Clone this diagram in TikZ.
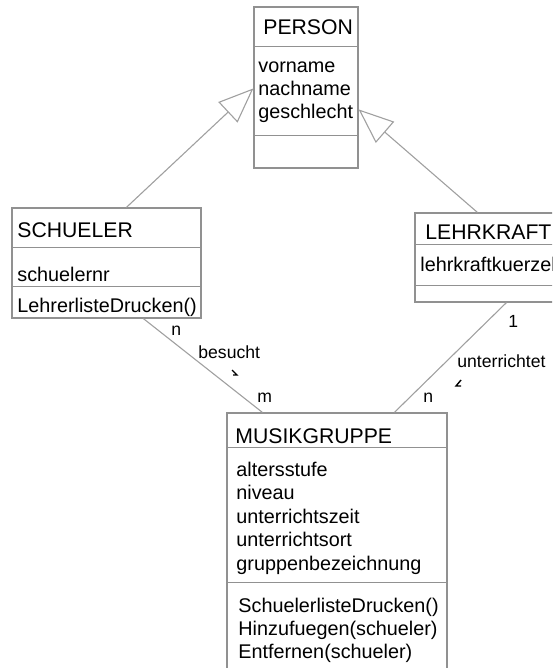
\documentclass[tikz,border=0pt]{standalone}
\usepackage{fontspec}
\setmainfont{Liberation Sans}
\usetikzlibrary{arrows.meta,fit,calc}
\definecolor{linegray}{RGB}{160,160,160}
\definecolor{boxgray}{RGB}{145,145,145}
\begin{document}
\begin{tikzpicture}[x=0.5pt,y=-0.5pt,
  cls/.style={draw=boxgray, line width=0.6pt, inner sep=0pt, fill=white},
  title/.style={anchor=base west, inner sep=0pt, font=\fontsize{10.6}{12}\selectfont},
  txt/.style={anchor=base west, inner sep=0pt, font=\fontsize{9.9}{11.5}\selectfont},
  lbl/.style={anchor=base west, inner sep=0pt, font=\fontsize{8.8}{10}\selectfont},
  conn/.style={draw=linegray, line width=0.55pt},
  inh/.style={conn, -{Triangle[open, length=17.5pt, width=14pt]}},
  sep/.style={draw=boxgray, line width=0.6pt},
  dirmark/.style={draw=black, line width=0.7pt}
]
\useasboundingbox (0,0) rectangle (552,668);
\clip (0,0) rectangle (552,668);

% class boxes
\node[cls, fit={(254,7) (358,168)}] (person) {};
\node[cls, fit={(12,208) (201,318)}] (schueler) {};
\node[cls, fit={(415,213) (562,302)}] (lehrkraft) {};
\node[cls, fit={(227,413) (447,672)}] (musik) {};

% separators
\draw[sep] ($(person.north west)+(0,40)$) -- ($(person.north east)+(0,40)$);
\draw[sep] ($(person.north west)+(0,129)$) -- ($(person.north east)+(0,129)$);
\draw[sep] ($(schueler.north west)+(0,40)$) -- ($(schueler.north east)+(0,40)$);
\draw[sep] ($(schueler.north west)+(0,79)$) -- ($(schueler.north east)+(0,79)$);
\draw[sep] ($(lehrkraft.north west)+(0,32)$) -- ($(lehrkraft.north east)+(0,32)$);
\draw[sep] ($(lehrkraft.north west)+(0,73)$) -- ($(lehrkraft.north east)+(0,73)$);
\draw[sep] ($(musik.north west)+(0,35)$) -- ($(musik.north east)+(0,35)$);
\draw[sep] ($(musik.north west)+(0,170)$) -- ($(musik.north east)+(0,170)$);

% PERSON texts
\node[title] (personT) at (263,35) {PERSON};
\node[txt] (pa1) at (258,73) {vorname};
\node[txt] (pa2) at (258,96) {nachname};
\node[txt] (pa3) at (258,119) {geschlecht};

% SCHUELER texts
\node[title] (schuelerT) at (17,237) {SCHUELER};
\node[txt] (sa1) at (17,281) {schuelernr};
\node[txt] (sm1) at (17,312) {LehrerlisteDrucken()};

% LEHRKRAFT texts
\node[title] (lehrkraftT) at (425,239) {LEHRKRAFT};
\node[txt] (la1) at (420,271) {lehrkraftkuerzel};

% MUSIKGRUPPE texts
\node[title] (musikT) at (235,443) {MUSIKGRUPPE};
\node[txt] (ma1) at (236,476) {altersstufe};
\node[txt] (ma2) at (236,499.5) {niveau};
\node[txt] (ma3) at (236,523) {unterrichtszeit};
\node[txt] (ma4) at (236,546.5) {unterrichtsort};
\node[txt] (ma5) at (236,570) {gruppenbezeichnung};
\node[txt] (mm1) at (238,612) {SchuelerlisteDrucken()};
\node[txt] (mm2) at (238,635) {Hinzufuegen(schueler)};
\node[txt] (mm3) at (238,658) {Entfernen(schueler)};

% inheritance
\draw[inh] ($(schueler.north west)+(115,0)$) -- ($(person.north west)+(0,82)$);
\draw[inh] ($(lehrkraft.north west)+(63,0)$) -- ($(person.north east)+(0,103)$);

% associations
\draw[conn] ($(schueler.south west)+(132,0)$) -- ($(musik.north west)+(36,0)$);
\draw[conn] ($(lehrkraft.south west)+(92,0)$) -- ($(musik.north west)+(168,0)$);

% association labels
\node[lbl] (n1) at (171,335) {n};
\node[lbl] (besucht) at (198,358) {besucht};
\node[lbl] (m1) at (257,402) {m};
\node[lbl] (one) at (508,327) {1};
\node[lbl] (unterrichtet) at (457,367) {unterrichtet};
\node[lbl] (n2) at (423,402) {n};

% reading direction marks
\draw[dirmark] (232,370) -- (237,375) -- (233,375);
\draw[dirmark] (461,380) -- (456,386) -- (461,386);
\end{tikzpicture}
\end{document}
